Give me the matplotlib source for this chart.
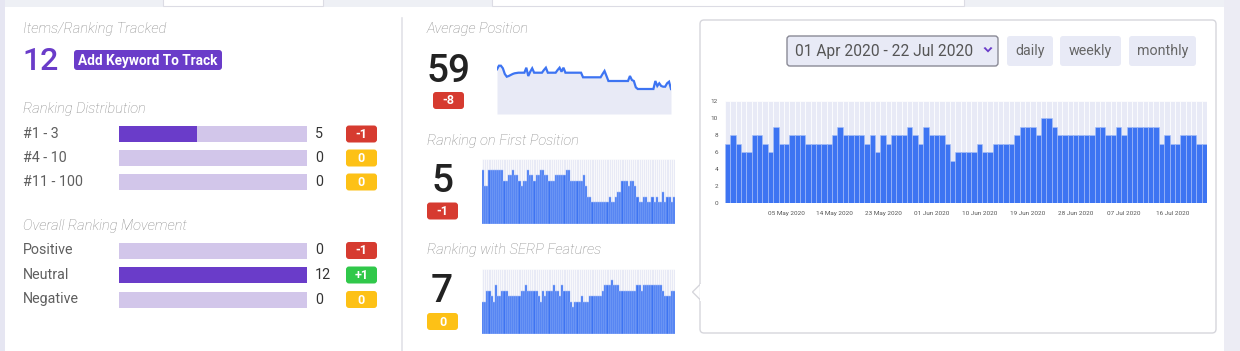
import matplotlib
matplotlib.use("Agg")
import matplotlib.pyplot as plt
from matplotlib.patches import FancyBboxPatch, Rectangle, Polygon
import numpy as np
import pandas as pd

plt.rcParams['font.family'] = ['Roboto', 'DejaVu Sans']

# ---------------- data ----------------
tracked_total = 12
dist_labels = ["#1 - 3", "#4 - 10", "#11 - 100"]
dist_values = [5, 0, 0]
dist_changes = ["-1", "0", "0"]

move_labels = ["Positive", "Neutral", "Negative"]
move_values = [0, 12, 0]
move_changes = ["-1", "+1", "0"]

avg_position = 59
avg_change = "-8"
first_position = 5
first_change = "-1"
serp_features = 7
serp_change = "0"

start_date = "2020-04-24"
avg_series = [44.7, 48.3, 48.3, 45.7, 40.0, 37.3, 38.0, 39.0, 40.0, 40.7,
              41.0, 41.3, 41.3, 41.3, 41.3, 46.3, 38.0, 42.3, 45.7, 41.3,
              41.3, 41.3, 41.3, 41.3, 44.0, 46.3, 41.3, 41.3, 41.3, 41.3,
              41.3, 44.0, 46.3, 42.3, 46.3, 41.3, 41.3, 41.3, 41.3, 41.3,
              41.3, 41.3, 41.3, 41.3, 36.7, 36.7, 36.7, 36.7, 36.7, 36.7,
              36.7, 36.7, 36.7, 36.7, 40.0, 43.0, 38.0, 33.0, 33.0, 33.0,
              33.0, 33.0, 33.0, 33.0, 33.0, 33.0, 33.0, 33.0, 38.0, 34.0,
              33.0, 26.7, 25.0, 25.0, 25.0, 25.0, 25.0, 25.0, 25.0, 25.0,
              25.0, 33.0, 28.0, 30.7, 28.0, 27.3, 27.3, 30.7, 32.3, 25.0]

first_series = [10, 7, 7, 10, 10, 10, 10, 10, 10, 10,
                8, 8, 9, 9, 10, 9, 9, 8, 7, 8,
                8, 10, 9, 9, 8, 9, 9, 10, 10, 9,
                9, 8, 8, 8, 9, 9, 9, 9, 9, 10,
                10, 8, 8, 8, 8, 8, 8, 9, 7, 5,
                5, 4, 4, 4, 4, 4, 4, 4, 4, 5,
                4, 4, 5, 6, 6, 8, 8, 8, 7, 8,
                8, 7, 5, 4, 4, 5, 5, 4, 4, 5,
                4, 5, 4, 4, 6, 4, 5, 5, 4, 5]

serp_series = [6, 6, 8, 8, 7, 6, 9, 7, 7, 8,
               8, 8, 7, 7, 7, 7, 7, 7, 8, 8,
               9, 8, 8, 8, 8, 8, 7, 6, 8, 7,
               8, 8, 8, 9, 8, 8, 7, 9, 8, 8,
               8, 6, 5, 6, 6, 6, 7, 6, 6, 6,
               7, 7, 7, 7, 7, 7, 8, 9, 9, 9,
               10, 9, 9, 9, 8, 8, 8, 8, 8, 8,
               8, 8, 9, 9, 8, 9, 9, 9, 9, 9,
               9, 9, 9, 9, 8, 7, 7, 7, 8, 8]

daily_counts = [7, 8, 7, 6, 6, 8, 8, 7, 6, 9,
                7, 7, 8, 8, 8, 7, 7, 7, 7, 7,
                8, 9, 8, 8, 8, 8, 7, 8, 6, 8,
                7, 8, 8, 8, 9, 8, 7, 9, 8, 8,
                8, 7, 5, 6, 6, 6, 6, 7, 6, 6,
                7, 7, 7, 7, 8, 9, 9, 9, 8, 10,
                10, 9, 8, 8, 8, 8, 8, 8, 8, 9,
                9, 8, 8, 9, 8, 9, 9, 9, 9, 9,
                9, 7, 8, 7, 7, 8, 8, 8, 7, 7]
date_tick_labels = ["05 May 2020", "14 May 2020", "23 May 2020", "01 Jun 2020",
                    "10 Jun 2020", "19 Jun 2020", "28 Jun 2020", "07 Jul 2020",
                    "16 Jul 2020"]
range_label = "01 Apr 2020 - 22 Jul 2020"
period_buttons = ["daily", "weekly", "monthly"]

# ---------------- styles ----------------
W, H, DPI = 1240, 351, 100
PURPLE = "#6a3cc9"
LIGHT_PURPLE = "#d2c6ea"
RED = "#d63b30"
YELLOW = "#fdc116"
GREEN = "#30c84a"
BLUE = "#3d74f2"
LAVENDER = "#e8eaf6"
GRAY_TITLE = "#8a8a8a"
LABEL = "#5f5f5f"
badge_colors = {"-": RED, "+": GREEN, "0": YELLOW}


def badge_color(s):
    return badge_colors.get(s[0], YELLOW)


fig = plt.figure(figsize=(W / DPI, H / DPI), dpi=DPI)
bg = fig.add_axes([0, 0, 1, 1])
bg.set_xlim(0, W)
bg.set_ylim(H, 0)
bg.axis("off")


def px_axes(x, y, w, h):
    return fig.add_axes([x / W, 1 - (y + h) / H, w / W, h / H])


def rbox(x, y, w, h, fc, ec="none", r=3, lw=1.0, z=1):
    p = FancyBboxPatch((x, y), w, h, boxstyle=f"round,pad=0,rounding_size={r}",
                       fc=fc, ec=ec, lw=lw, zorder=z)
    bg.add_patch(p)
    return p


def title(x, y, s):
    bg.text(x, y, s, fontsize=10.5, style="italic", color=GRAY_TITLE,
            va="center", ha="left", fontweight="light")


def badge(cx, cy, s, w=31, h=17):
    rbox(cx - w / 2, cy - h / 2, w, h, badge_color(s), r=3)
    bg.text(cx, cy + 0.5, s, color="white", fontsize=9, fontweight="bold",
            ha="center", va="center", zorder=3)


# page chrome
bg.add_patch(Rectangle((0, 0), W, 7, fc="#eef0f5", ec="none", zorder=0))
bg.add_patch(Rectangle((163, -2), 160, 8, fc="white", ec="#dcdce4", lw=0.8, zorder=0.5))
bg.add_patch(Rectangle((492, -2), 472, 8, fc="white", ec="#dcdce4", lw=0.8, zorder=0.5))
bg.add_patch(Rectangle((0, 0), 5, H, fc="#e6e6f2", ec="none", zorder=0.6))
bg.add_patch(Rectangle((1224, 0), 16, H, fc="#ececf4", ec="none", zorder=0.6))
bg.plot([402, 402], [18, H], color="#e2e2e8", lw=1.2, zorder=0.6)

# ---------------- left panel ----------------
title(23, 29, "Items/Ranking Tracked")
bg.text(22, 61, str(tracked_total), fontsize=23, color=PURPLE, va="center", ha="left",
        fontweight="medium")
rbox(74, 50, 148, 20, PURPLE, r=3)
bg.text(148, 60.5, "Add Keyword To Track", color="white", fontsize=9.8,
        fontweight="bold", ha="center", va="center", zorder=3)

title(23, 109, "Ranking Distribution")
title(23, 226, "Overall Ranking Movement")

BAR_X, BAR_W = 119, 188


def stat_rows(labels, values, changes, y0, step):
    for i, (lab, v, ch) in enumerate(zip(labels, values, changes)):
        cy = y0 + i * step
        bg.text(23, cy, lab, fontsize=10.3, color=LABEL, va="center", ha="left")
        bg.add_patch(Rectangle((BAR_X, cy - 8), BAR_W, 16, fc=LIGHT_PURPLE, ec="none", zorder=1))
        bg.add_patch(Rectangle((BAR_X, cy - 8), BAR_W * v / tracked_total, 16,
                               fc=PURPLE, ec="none", zorder=1.5))
        bg.text(315, cy, str(v), fontsize=10.3, color="#333333", va="center", ha="left")
        badge(361.5, cy, ch)


stat_rows(dist_labels, dist_values, dist_changes, 134, 24)
stat_rows(move_labels, move_values, move_changes, 250.5, 24.5)

# ---------------- middle panel ----------------
title(427, 29, "Average Position")
title(427, 141, "Ranking on First Position")
title(427, 250, "Ranking with SERP Features")

bg.text(448.5, 72, str(avg_position), fontsize=28, color="#222222", ha="center",
        va="center", fontweight="medium")
badge(448.5, 100.5, avg_change)
bg.text(442, 182, str(first_position), fontsize=28, color="#222222", ha="center",
        va="center", fontweight="medium")
badge(442.5, 211, first_change)
bg.text(442, 292, str(serp_features), fontsize=28, color="#222222", ha="center",
        va="center", fontweight="medium")
badge(442.5, 321.5, serp_change)

days = np.arange(len(avg_series))
ax_avg = px_axes(497, 55, 174, 59)
ax_avg.fill_between(days, avg_series, 0, color=LAVENDER, lw=0)
ax_avg.plot(days, avg_series, color=BLUE, lw=1.6, solid_joinstyle="miter")
ax_avg.set_xlim(0, len(avg_series) - 1)
ax_avg.set_ylim(0, 59)
ax_avg.axis("off")


def mini_bars(ax, series, ymax=12):
    x = np.arange(len(series))
    ax.bar(x, [ymax] * len(series), width=1.0, color=LAVENDER, edgecolor="white", lw=0.4)
    ax.bar(x, series, width=1.0, color=BLUE, edgecolor="#a9c0f8", lw=0.35)
    ax.set_xlim(-0.5, len(series) - 0.5)
    ax.set_ylim(0, ymax)
    ax.axis("off")


mini_bars(px_axes(482, 159, 193, 65), first_series)
mini_bars(px_axes(482, 269, 193, 65), serp_series)

# ---------------- right card ----------------
rbox(700, 20, 516, 313, "white", ec="#d6d6dc", r=4, lw=1.0, z=0.7)
bg.add_patch(Polygon([(700.5, 284), (692.5, 292), (700.5, 300)], closed=True,
                     fc="white", ec="#d6d6dc", lw=1.0, zorder=0.8))
bg.plot([701, 701], [284.5, 299.5], color="white", lw=1.5, zorder=0.9)

rbox(787, 36, 211, 30, LAVENDER, ec="#8a8a96", r=3, lw=1.0)
bg.text(795, 51.5, range_label, fontsize=11.2, color="#555555", ha="left", va="center")
bg.fill([983.5, 988, 992.5, 990.8, 988, 985.2], [48, 52.5, 48, 47, 50, 47],
        color=PURPLE, lw=0, zorder=3)

btn_boxes = [(1007, 46), (1060, 61), (1129, 67)]
for (bx, bw), lab in zip(btn_boxes, period_buttons):
    rbox(bx, 36, bw, 30, LAVENDER, r=3)
    bg.text(bx + bw / 2, 51.5, lab, fontsize=10.3, color="#666666", ha="center", va="center")

dates = pd.date_range(start_date, periods=len(daily_counts), freq="D")
ax = px_axes(725, 101, 482, 102)
ax.bar(dates, [12] * len(dates), width=1.0, color=LAVENDER, edgecolor="white", lw=0.5)
ax.bar(dates, daily_counts, width=1.0, color=BLUE, edgecolor="#a9c0f8", lw=0.4)
ax.set_xlim(dates[0] - pd.Timedelta(hours=12), dates[-1] + pd.Timedelta(hours=12))
ax.set_ylim(0, 12)
tick_dates = pd.to_datetime(date_tick_labels, format="%d %b %Y")
ax.set_xticks(tick_dates)
ax.set_xticklabels(date_tick_labels)
ax.set_yticks(np.arange(0, 13, 2))
ax.tick_params(axis="both", length=0, labelsize=4.6, colors="#555555", pad=6)
ax.tick_params(axis="y", pad=5)
for s in ax.spines.values():
    s.set_visible(False)

fig.savefig("out.png", dpi=DPI)
